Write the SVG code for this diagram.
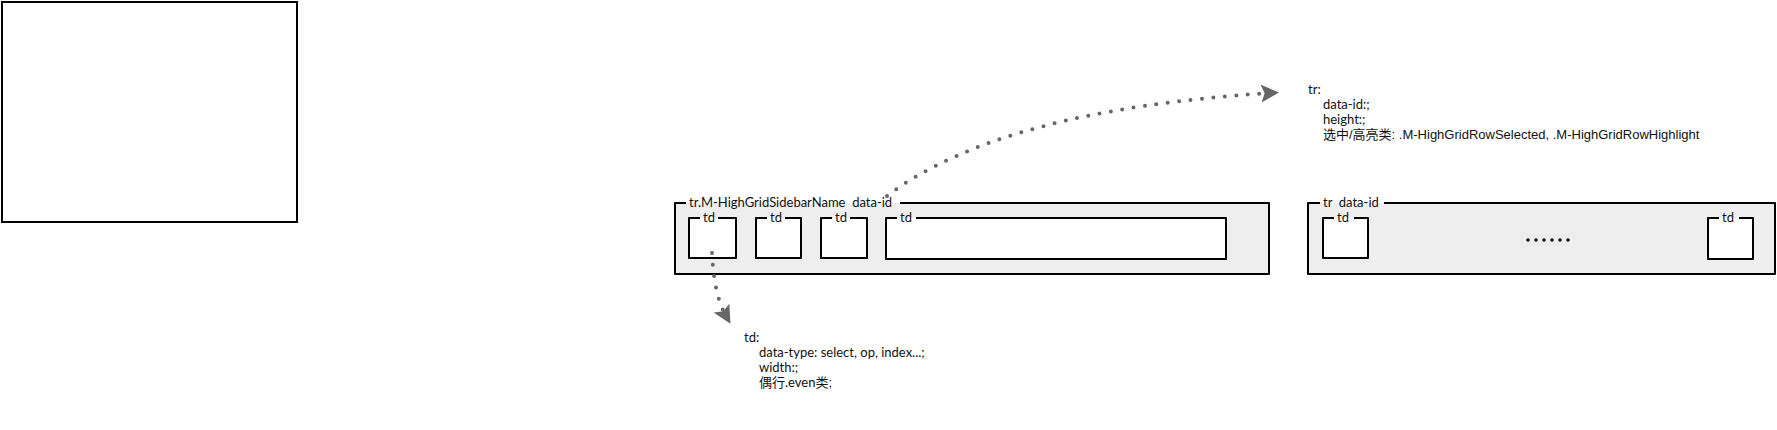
<svg xmlns="http://www.w3.org/2000/svg" width="1777" height="430" viewBox="0 0 1777 430">
<style>
  .bg{fill:#ffffff}
  .row{fill:#eeeeee;stroke:none}
  .cell{fill:#ffffff;stroke:none}
  .edge{fill:none;stroke:#000000;stroke-width:2;stroke-linejoin:round}
  .lbl{font-family:Lato,"Noto Sans","Noto Sans CJK SC",sans-serif;font-size:13px;fill:#111111;white-space:pre}
  .note{font-family:Lato,"Noto Sans","Noto Sans CJK SC",sans-serif;font-size:13px;fill:#111111}
  .cjk{font-family:"Liberation Sans","Noto Sans CJK SC",sans-serif;font-size:13px;fill:#111111}
  .dots{fill:none;stroke:#666666;stroke-width:4;stroke-linecap:round;stroke-dasharray:0 11.5}
  .ell{fill:#111111}
</style>
<defs>
  <marker id="ah" viewBox="0 0 10 10" refX="5" refY="5" markerWidth="4.5" markerHeight="4.5" orient="auto" markerUnits="strokeWidth">
    <path d="M0,0 L10,5 L0,10 L2,5 Z" fill="#666666"/>
  </marker>
</defs>
<rect class="bg" x="0" y="0" width="1777" height="430"/>

<g id="blank-frame">
  <rect x="2" y="2" width="295" height="220" fill="#ffffff" stroke="#000000" stroke-width="2"/>
</g>

<g id="tr-sidebar">
  <rect class="row" x="675" y="203" width="594" height="71"/>
  <path class="edge" d="M686,203 L675,203 L675,274 L1269,274 L1269,203 L900,203"/>
  <text class="lbl" x="689" y="207" xml:space="preserve">tr.M-HighGridSidebarName  data-id</text>
  <g id="td-1">
    <rect class="cell" x="689" y="218" width="47" height="40"/>
    <path class="edge" d="M700,218 L689,218 L689,258 L736,258 L736,218 L718,218"/>
    <text class="lbl" x="703" y="222">td</text>
  </g>
  <g id="td-2">
    <rect class="cell" x="756" y="218" width="45" height="40"/>
    <path class="edge" d="M767,218 L756,218 L756,258 L801,258 L801,218 L785,218"/>
    <text class="lbl" x="770" y="222">td</text>
  </g>
  <g id="td-3">
    <rect class="cell" x="821" y="218" width="46" height="40"/>
    <path class="edge" d="M832,218 L821,218 L821,258 L867,258 L867,218 L850,218"/>
    <text class="lbl" x="835" y="222">td</text>
  </g>
  <g id="td-4">
    <rect class="cell" x="886" y="218" width="340" height="41"/>
    <path class="edge" d="M897,218 L886,218 L886,259 L1226,259 L1226,218 L916,218"/>
    <text class="lbl" x="900" y="222">td</text>
  </g>
</g>

<g id="tr-row">
  <rect class="row" x="1308" y="203" width="467" height="71"/>
  <path class="edge" d="M1320,203 L1308,203 L1308,274 L1775,274 L1775,203 L1384,203"/>
  <text class="lbl" x="1323" y="207" xml:space="preserve">tr  data-id</text>
  <g id="td-5">
    <rect class="cell" x="1323" y="218" width="45" height="40"/>
    <path class="edge" d="M1334,218 L1323,218 L1323,258 L1368,258 L1368,218 L1354,218"/>
    <text class="lbl" x="1337" y="222">td</text>
  </g>
  <g id="td-6">
    <rect class="cell" x="1708" y="218" width="45" height="41"/>
    <path class="edge" d="M1719,218 L1708,218 L1708,259 L1753,259 L1753,218 L1739,218"/>
    <text class="lbl" x="1722" y="222">td</text>
  </g>
  <g id="ellipsis">
    <circle class="ell" cx="1528" cy="240" r="1.8"/>
    <circle class="ell" cx="1536" cy="240" r="1.8"/>
    <circle class="ell" cx="1544" cy="240" r="1.8"/>
    <circle class="ell" cx="1552" cy="240" r="1.8"/>
    <circle class="ell" cx="1560" cy="240" r="1.8"/>
    <circle class="ell" cx="1568" cy="240" r="1.8"/>
  </g>
</g>

<g id="note-tr">
  <text class="note" x="1308" y="94">tr:</text>
  <text class="note" x="1323" y="109">data-id:;</text>
  <text class="note" x="1323" y="124">height:;</text>
  <text class="cjk" x="1323" y="139">选中/高亮类: .M-HighGridRowSelected, .M-HighGridRowHighlight</text>
</g>

<g id="note-td">
  <text class="note" x="744" y="342">td:</text>
  <text class="note" x="759" y="357">data-type: select, op, index...;</text>
  <text class="note" x="759" y="372">width:;</text>
  <text class="cjk" x="759" y="387">偶行<tspan class="note">.even</tspan>类;</text>
</g>

<g id="connectors">
  <path class="dots" d="M887,196 Q1000,110 1270,93" marker-end="url(#ah)"/>
  <path class="dots" d="M712,253 Q714,295 726,316" marker-end="url(#ah)"/>
</g>
</svg>
